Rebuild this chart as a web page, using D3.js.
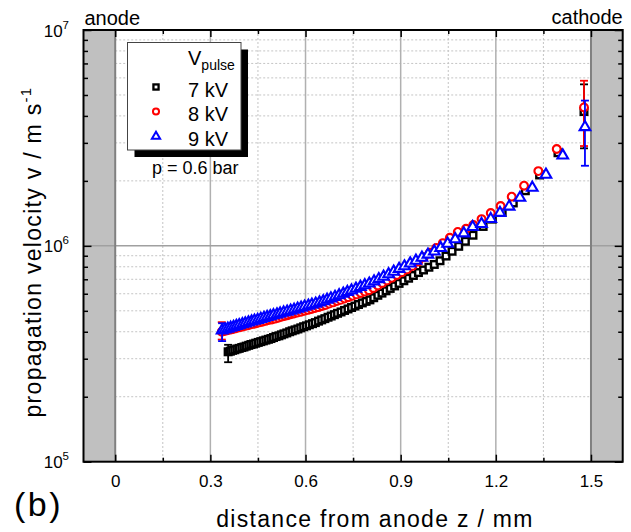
<!DOCTYPE html>
<html><head><meta charset="utf-8">
<script src="https://cdn.jsdelivr.net/npm/d3@7"></script>
<style>
body{margin:0;background:#fff}
svg{display:block}
text{font-family:"Liberation Sans",Arial,Helvetica,sans-serif;fill:#000}
</style>
</head><body>
<svg id="c" width="631" height="532"></svg>
<script>
// ---- data (z in mm, v in m/s) ----
const z7 = [.356,.363,.370,.377,.384,.391,.399,.406,.413,.421,.428,.436,.443,.451,.459,.467,.475,.483,
  .491,.499,.507,.516,.524,.532,.541,.550,.558,.567,.576,.585,.594,.603,.612,.622,
  .631,.641,.651,.661,.671,.681,.691,.701,.712,.723,.734,.745,.756,.767,.779,.791,.803,
  .815,.828,.841,.854,.867,.881,.895,.910,.925,.940,.956,.972,.989,1.006,1.024,1.043,
  1.062,1.083,1.104,1.128,1.160,1.189,1.220,1.255,1.293,1.338,1.396,1.478];
const v7 = [3.23e5,3.25e5,3.28e5,3.30e5,3.33e5,3.35e5,3.38e5,3.40e5,3.43e5,3.46e5,3.49e5,3.51e5,3.54e5,3.57e5,3.60e5,3.63e5,3.66e5,3.69e5,
  3.72e5,3.76e5,3.80e5,3.83e5,3.87e5,3.91e5,3.95e5,4.00e5,4.04e5,4.08e5,4.12e5,4.17e5,4.22e5,4.26e5,4.31e5,4.36e5,
  4.41e5,4.48e5,4.54e5,4.60e5,4.67e5,4.73e5,4.80e5,4.87e5,4.94e5,5.02e5,5.10e5,5.18e5,5.26e5,5.35e5,5.44e5,5.53e5,5.62e5,
  5.75e5,5.90e5,6.04e5,6.19e5,6.35e5,6.52e5,6.70e5,6.89e5,7.08e5,7.29e5,7.52e5,7.73e5,7.96e5,8.20e5,8.53e5,8.97e5,
  9.44e5,9.95e5,1.05e6,1.12e6,1.23e6,1.33e6,1.43e6,1.58e6,1.80e6,2.13e6,2.70e6,4.19e6];
const z8 = [.336,.345,.354,.363,.372,.381,.390,.399,.408,.417,.426,.435,.445,.454,.464,.474,.484,
  .494,.504,.514,.524,.534,.544,.554,.564,.575,.586,.597,.608,.619,.630,.641,
  .652,.663,.675,.687,.699,.711,.723,.735,.748,.761,.774,.787,.800,
  .814,.828,.842,.857,.872,.888,.904,.920,.937,.955,.973,.992,1.012,
  1.033,1.055,1.080,1.106,1.129,1.155,1.184,1.215,1.250,1.289,1.334,1.392,1.478];
const v8 = [4.00e5,4.03e5,4.06e5,4.09e5,4.12e5,4.15e5,4.19e5,4.22e5,4.25e5,4.28e5,4.32e5,4.35e5,4.38e5,4.42e5,4.45e5,4.49e5,4.53e5,
  4.56e5,4.60e5,4.64e5,4.69e5,4.73e5,4.77e5,4.82e5,4.86e5,4.91e5,4.95e5,5.00e5,5.05e5,5.10e5,5.15e5,5.20e5,
  5.26e5,5.32e5,5.40e5,5.47e5,5.55e5,5.62e5,5.70e5,5.78e5,5.87e5,5.96e5,6.05e5,6.14e5,6.23e5,
  6.38e5,6.55e5,6.73e5,6.92e5,7.11e5,7.33e5,7.55e5,7.78e5,8.07e5,8.45e5,8.85e5,9.29e5,9.77e5,
  1.03e6,1.09e6,1.16e6,1.20e6,1.25e6,1.33e6,1.42e6,1.53e6,1.69e6,1.90e6,2.22e6,2.81e6,4.38e6];
const z9 = [.337,.346,.355,.364,.373,.382,.391,.401,.410,.420,.430,.439,.449,.459,.469,.479,.489,
  .499,.510,.520,.531,.542,.553,.564,.575,.586,.597,.609,.620,.632,.644,
  .656,.668,.680,.693,.706,.719,.732,.745,.759,.773,.787,.801,
  .816,.831,.846,.862,.878,.895,.912,.930,.948,.967,.986,1.006,1.026,
  1.048,1.072,1.099,1.127,1.155,1.184,1.213,1.242,1.276,1.315,1.358,1.411,1.481];
const v9 = [4.08e5,4.12e5,4.16e5,4.20e5,4.24e5,4.28e5,4.32e5,4.36e5,4.40e5,4.45e5,4.49e5,4.53e5,4.57e5,4.62e5,4.67e5,4.71e5,4.75e5,
  4.80e5,4.84e5,4.89e5,4.94e5,4.99e5,5.04e5,5.09e5,5.15e5,5.20e5,5.26e5,5.32e5,5.37e5,5.43e5,5.50e5,
  5.57e5,5.66e5,5.75e5,5.84e5,5.94e5,6.04e5,6.15e5,6.25e5,6.37e5,6.49e5,6.61e5,6.73e5,
  6.89e5,7.06e5,7.24e5,7.43e5,7.64e5,7.87e5,8.09e5,8.34e5,8.59e5,8.87e5,9.16e5,9.48e5,9.84e5,
  1.03e6,1.08e6,1.15e6,1.23e6,1.27e6,1.34e6,1.43e6,1.53e6,1.68e6,1.87e6,2.15e6,2.64e6,3.57e6];
// error bars on the first and last point of each series
const errLo7 = [2.89e5, 2.83e6], errHi7 = [3.48e5, 5.60e6];
const errLo8 = [3.68e5, 2.90e6], errHi8 = [4.43e5, 5.82e6];
const errLo9 = [3.62e5, 2.35e6], errHi9 = [4.38e5, 4.71e6];
const seriesLabels = ["7 kV", "8 kV", "9 kV"];
const xTicks = [0, 0.3, 0.6, 0.9, 1.2, 1.5];
const xMinorTicks = [0.15, 0.45, 0.75, 1.05, 1.35];
const yTicks = [1e5, 1e6, 1e7];
const yExponents = ["5", "6", "7"];
const yMinorTicks = [2e5,3e5,4e5,5e5,6e5,7e5,8e5,9e5,2e6,3e6,4e6,5e6,6e6,7e6,8e6,9e6];

// ---- drawing ----
const svg = d3.select('#c');
const x = d3.scaleLinear().domain([-0.1, 1.6]).range([83.5, 622.7]);
const y = d3.scaleLog().domain([1e5, 1e7]).range([461.7, 30]);
const L = x.range()[0], R = x.range()[1], T = y.range()[1], B = y.range()[0];
const FONT = '"Liberation Sans",Arial,Helvetica,sans-serif';

// electrode bands
svg.append('rect').attr('x', L).attr('y', T).attr('width', x(0) - L).attr('height', B - T).attr('fill', '#c0c0c0');
svg.append('rect').attr('x', x(1.5)).attr('y', T).attr('width', R - x(1.5)).attr('height', B - T).attr('fill', '#c0c0c0');

// minor grid (dotted)
const grid = svg.append('g');
grid.selectAll('.vm').data(xMinorTicks).join('line')
  .attr('x1', d => x(d)).attr('x2', d => x(d)).attr('y1', T).attr('y2', B)
  .attr('stroke', '#c4c4c4').attr('stroke-width', 1).attr('stroke-dasharray', '2,2');
grid.selectAll('.hm').data(yMinorTicks).join('line')
  .attr('x1', x(0)).attr('x2', x(1.5)).attr('y1', d => y(d)).attr('y2', d => y(d))
  .attr('stroke', '#c4c4c4').attr('stroke-width', 1).attr('stroke-dasharray', '2,2');
// major grid
grid.selectAll('.vM').data(xTicks.filter(d => d > 0 && d < 1.5)).join('line')
  .attr('x1', d => x(d)).attr('x2', d => x(d)).attr('y1', T).attr('y2', B)
  .attr('stroke', '#b0b0b0').attr('stroke-width', 1.5);
grid.append('line').attr('x1', L).attr('x2', R).attr('y1', y(1e6)).attr('y2', y(1e6))
  .attr('stroke', '#a0a0a0').attr('stroke-width', 1.5);
grid.selectAll('.edge').data([0, 1.5]).join('line')
  .attr('x1', d => x(d)).attr('x2', d => x(d)).attr('y1', T).attr('y2', B)
  .attr('stroke', '#808080').attr('stroke-width', 2);

// series
const series = [
  {z: z7, v: v7, lo: errLo7, hi: errHi7, color: '#000000', shape: 'square'},
  {z: z8, v: v8, lo: errLo8, hi: errHi8, color: '#ff0000', shape: 'circle'},
  {z: z9, v: v9, lo: errLo9, hi: errHi9, color: '#0000ff', shape: 'triangle'}
];
function marker(g, shape, color, s, sw) {
  if (shape === 'square') {
    g.append('rect').attr('x', -3.3 * s).attr('y', -3.3 * s).attr('width', 6.6 * s).attr('height', 6.6 * s)
      .attr('fill', '#fff').attr('stroke', color).attr('stroke-width', sw + 0.3);
  } else if (shape === 'circle') {
    g.append('circle').attr('r', 3.9 * s).attr('fill', '#fff').attr('stroke', color).attr('stroke-width', sw);
  } else {
    g.append('path').attr('d', `M0,${-5.5 * s}L${5.3 * s},${3.6 * s}L${-5.3 * s},${3.6 * s}Z`)
      .attr('fill', '#fff').attr('stroke', color).attr('stroke-width', sw).attr('stroke-linejoin', 'miter');
  }
}
series.forEach(s => {
  const g = svg.append('g');
  const idx = [0, s.z.length - 1];
  idx.forEach((i, k) => {
    const cx = x(s.z[i]);
    g.append('line').attr('x1', cx).attr('x2', cx).attr('y1', y(s.lo[k])).attr('y2', y(s.hi[k]))
      .attr('stroke', s.color).attr('stroke-width', 1.8);
    [s.lo[k], s.hi[k]].forEach(val => {
      g.append('line').attr('x1', cx - 4).attr('x2', cx + 4).attr('y1', y(val)).attr('y2', y(val))
        .attr('stroke', s.color).attr('stroke-width', 1.8);
    });
  });
  s.z.forEach((zz, i) => {
    const m = g.append('g').attr('transform', `translate(${x(zz)},${y(s.v[i])})`);
    marker(m, s.shape, s.color, 1, 2.1);
  });
});

// frame
svg.append('rect').attr('x', L).attr('y', T).attr('width', R - L).attr('height', B - T)
  .attr('fill', 'none').attr('stroke', '#000').attr('stroke-width', 2);

// axes (inward ticks)
function styleAxis(g) {
  g.select('.domain').remove();
  g.selectAll('line').attr('stroke', '#000').attr('stroke-width', 1.5);
  g.attr('font-family', FONT);
}
const gB = svg.append('g').attr('transform', `translate(0,${B})`)
  .call(d3.axisBottom(x).tickValues(xTicks).tickSize(-7).tickPadding(13).tickFormat(d3.format('~g')));
styleAxis(gB); gB.attr('font-size', 17);
const gBm = svg.append('g').attr('transform', `translate(0,${B})`)
  .call(d3.axisBottom(x).tickValues(xMinorTicks).tickSize(-4).tickFormat(''));
styleAxis(gBm);
const gT = svg.append('g').attr('transform', `translate(0,${T})`)
  .call(d3.axisTop(x).tickValues(xTicks).tickSize(-7).tickFormat(''));
styleAxis(gT);
const gTm = svg.append('g').attr('transform', `translate(0,${T})`)
  .call(d3.axisTop(x).tickValues(xMinorTicks).tickSize(-4).tickFormat(''));
styleAxis(gTm);
[[d3.axisLeft, L], [d3.axisRight, R]].forEach(([ax, pos]) => {
  const gM = svg.append('g').attr('transform', `translate(${pos},0)`)
    .call(ax(y).tickValues(yTicks).tickSize(-8).tickFormat(''));
  styleAxis(gM);
  const gm = svg.append('g').attr('transform', `translate(${pos},0)`)
    .call(ax(y).tickValues(yMinorTicks).tickSize(-4.5).tickFormat(''));
  styleAxis(gm);
});

// y tick labels with superscripts
yTicks.forEach((t, i) => {
  const tx = svg.append('text').attr('x', 69).attr('y', y(t) + 6.5).attr('text-anchor', 'end').attr('font-size', 17);
  tx.append('tspan').text('10');
  tx.append('tspan').attr('dy', -8).attr('font-size', 11.5).text(yExponents[i]);
});

// axis titles
svg.append('text').attr('x', 375).attr('y', 527).attr('text-anchor', 'middle').attr('font-size', 23)
  .attr('letter-spacing', 1.3).text('distance from anode z / mm');
const yt = svg.append('text').attr('transform', `translate(41,252) rotate(-90)`)
  .attr('text-anchor', 'middle').attr('font-size', 23).attr('letter-spacing', 1.3);
yt.append('tspan').text('propagation velocity v / m s');
yt.append('tspan').attr('dy', -10).attr('font-size', 15).text('-1');

svg.append('text').attr('x', 14).attr('y', 516).attr('font-size', 34).attr('letter-spacing', 2.5).text('(b)');
svg.append('text').attr('x', L + 1).attr('y', 25).attr('font-size', 20).text('anode');
svg.append('text').attr('x', R).attr('y', 24).attr('text-anchor', 'end').attr('font-size', 20).text('cathode');

// legend
const lg = svg.append('g');
lg.append('rect').attr('x', 134.5).attr('y', 49.5).attr('width', 113.5).attr('height', 107.5).attr('fill', '#000');
lg.append('rect').attr('x', 127.5).attr('y', 42.5).attr('width', 113.5).attr('height', 107.5)
  .attr('fill', '#fff').attr('stroke', '#444').attr('stroke-width', 1);
const vh = lg.append('text').attr('x', 188).attr('y', 65).attr('font-size', 20);
vh.append('tspan').text('V');
vh.append('tspan').attr('dy', 5).attr('font-size', 14).text('pulse');
seriesLabels.forEach((lab, i) => {
  const yy = 87 + i * 24.5;
  const m = lg.append('g').attr('transform', `translate(156,${yy})`);
  marker(m, series[i].shape, series[i].color, 0.78, 2);
  lg.append('text').attr('x', 188).attr('y', yy + 9.5).attr('font-size', 20).text(lab);
});
svg.append('text').attr('x', 152).attr('y', 174).attr('font-size', 18).text('p = 0.6 bar');
</script>
</body></html>
